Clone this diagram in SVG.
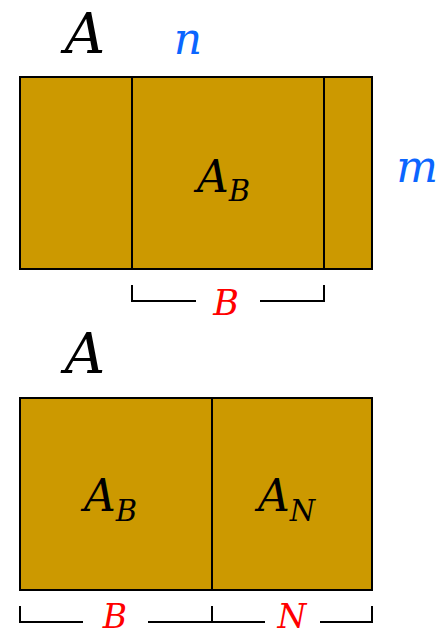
<svg xmlns="http://www.w3.org/2000/svg" width="441" height="636" viewBox="0 0 441 636">
<style>
.blk{fill:#cc9900;stroke:#000;stroke-width:2}
.ln{stroke:#000;stroke-width:2;fill:none}
.t{font-family:"DejaVu Serif","Liberation Serif",serif;font-style:italic}
.big{font-size:56px;fill:#000}
.lbl{font-size:44px;fill:#000}
.sub{font-size:29px}
.blue{font-size:44px;fill:#0b66ff}
.red{font-size:35px;fill:#ff0000}
.redb{font-size:33px;fill:#ff0000}
</style>
<rect width="441" height="636" fill="#fff"/>
<g id="top">
<text class="t big" x="85" y="53" text-anchor="middle">A</text>
<text class="t blue" x="188" y="54" text-anchor="middle">n</text>
<text class="t blue" x="417" y="182" text-anchor="middle">m</text>
<g id="topRect">
<rect class="blk" x="20" y="77" width="352" height="192"/>
<line class="ln" x1="132" y1="77" x2="132" y2="269"/>
<line class="ln" x1="324" y1="77" x2="324" y2="269"/>
<text class="t lbl" x="197" y="192">A<tspan class="sub" dy="9">B</tspan></text>
</g>
<g id="topBracket">
<path class="ln" d="M132,285 V301 H196 M260,301 H324 V285"/>
<text class="t red" x="226" y="315" text-anchor="middle">B</text>
</g>
</g>
<g id="bottom">
<text class="t big" x="85" y="373" text-anchor="middle">A</text>
<g id="botRect">
<rect class="blk" x="20" y="398" width="352" height="192"/>
<line class="ln" x1="212" y1="398" x2="212" y2="590"/>
<text class="t lbl" x="84" y="511">A<tspan class="sub" dy="10">B</tspan></text>
<text class="t lbl" x="258" y="511">A<tspan class="sub" dy="10">N</tspan></text>
</g>
<g id="botBrackets">
<path class="ln" d="M20,606 V622 H83 M148,622 H212 V606 M212,622 H265 M320,622 H372 V606"/>
<text class="t redb" x="115" y="628" text-anchor="middle">B</text>
<text class="t redb" x="292" y="628" text-anchor="middle">N</text>
</g>
</g>
</svg>
